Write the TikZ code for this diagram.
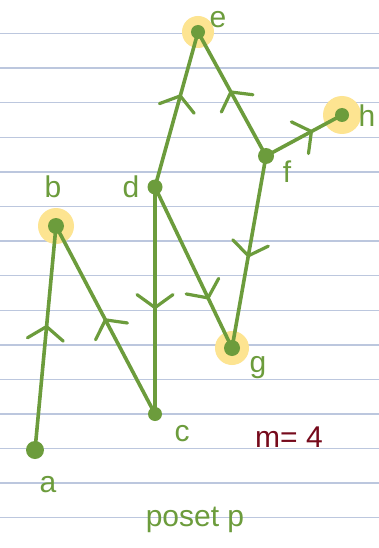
\documentclass[tikz,border=0pt]{standalone}
\usepackage{fontspec}
\setmainfont{Liberation Sans}
\usetikzlibrary{arrows.meta,decorations.markings}
\definecolor{ink}{RGB}{108,156,60}
\definecolor{hl}{RGB}{253,228,145}
\definecolor{rule}{RGB}{188,199,222}
\definecolor{wine}{RGB}{118,10,28}
\tikzset{
  vert/.style={circle,fill=ink,inner sep=0pt,minimum size=14pt},
  glow/.style={circle,fill=hl,inner sep=0pt},
  lbl/.style={text=ink,font=\fontsize{30}{30}\selectfont,inner sep=0pt},
  edge/.style={draw=ink,line width=3.6pt,line cap=round},
  mid/.style={postaction={decorate},decoration={markings,
     mark=at position #1 with {\arrow[ink,line width=3.2pt]{Straight Barb[length=13pt,width=36pt,line cap=round]}}}}
}
\begin{document}
\begin{tikzpicture}[x=1pt,y=-1pt]
\useasboundingbox (0,0) rectangle (379,548);
\fill[white] (0,0) rectangle (379,548);
\foreach \k in {0,...,15} {
  \draw[rule,line width=1.4pt] (0,{33.5+34.59*(\k-1)}) -- (379,{33.5+34.59*(\k-1)});
}
% highlights
\node[glow,minimum size=32pt] (he) at (198,32) {};
\node[glow,minimum size=38pt] (hh) at (342,115) {};
\node[glow,minimum size=36pt] (hb) at (56,226) {};
\node[glow,minimum size=34pt] (hg) at (232,348) {};
% vertices
\node[vert] (e) at (198,32) {};
\node[vert] (h) at (342,115) {};
\node[vert,minimum size=16pt] (f) at (266,156) {};
\node[vert,minimum size=15pt] (d) at (155,187) {};
\node[vert,minimum size=16pt] (b) at (56,226) {};
\node[vert,minimum size=16pt] (g) at (232,348) {};
\node[vert] (c) at (155,414) {};
\node[vert,minimum size=18pt] (a) at (35,450) {};
% edges
\draw[edge,mid=0.56] (a.center) -- (b.center);
\draw[edge,mid=0.51] (c.center) -- (b.center);
\draw[edge,mid=0.54] (d.center) -- (c.center);
\draw[edge,mid=0.70] (d.center) -- (g.center);
\draw[edge,mid=0.53] (f.center) -- (g.center);
\draw[edge,mid=0.60] (d.center) -- (e.center);
\draw[edge,mid=0.53] (f.center) -- (e.center);
\draw[edge,mid=0.62] (f.center) -- (h.center);
% labels
\node[lbl] (le) at (218,20) {e};
\node[lbl] (lh) at (367,116) {h};
\node[lbl] (lf) at (287,172) {f};
\node[lbl] (ld) at (131,187) {d};
\node[lbl] (lb) at (53,187) {b};
\node[lbl] (lg) at (258,368) {g};
\node[lbl] (lc) at (182,434) {c};
\node[lbl] (la) at (48,485) {a};
\node[text=wine,font=\fontsize{30}{30}\selectfont,inner sep=0pt] (m) at (289,437) {m= 4};
\node[lbl] (cap) at (195,520) {poset p};
\end{tikzpicture}
\end{document}
